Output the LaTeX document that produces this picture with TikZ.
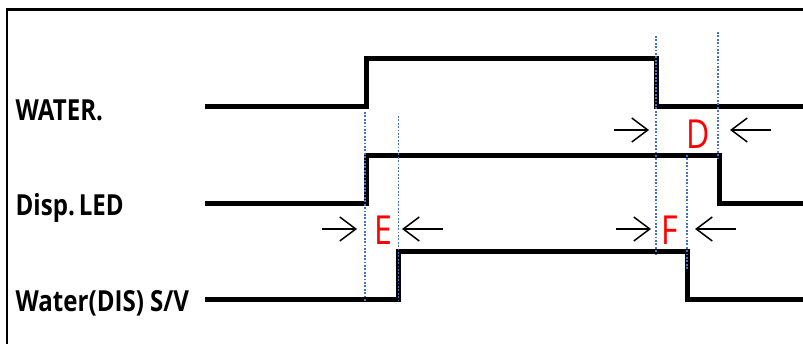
\documentclass[tikz,border=0pt]{standalone}
\usepackage{fontspec}
\setmainfont{Open Sans}
\usetikzlibrary{arrows.meta}
\definecolor{guideblue}{RGB}{68,114,196}
\definecolor{markred}{RGB}{255,0,0}
\begin{document}
\begin{tikzpicture}[x=1pt,y=-1pt,
  frame/.style={line width=2.2pt,black},
  signal/.style={line width=5pt,black,line join=miter},
  guide/.style={line width=1.8pt,guideblue,dash pattern=on 1.8pt off 1.6pt},
  measure/.style={line width=1.5pt,black,-{Straight Barb[length=16pt,width=24pt]}},
  siglabel/.style={anchor=base west,inner sep=0pt,font=\fontsize{29}{32}\selectfont\bfseries,xscale=0.83},
  marklabel/.style={inner sep=0pt,text=markred,font=\fontsize{40}{44}\selectfont,xscale=0.8}]
\useasboundingbox (0,0) rectangle (803,344);
% frame
\coordinate (fb) at (7,346);
\coordinate (fc) at (7,9.5);
\coordinate (fr) at (805,9.5);
\draw[frame] (fb) -- (fc) -- (fr);
% labels
\node[siglabel] (lw) at (15.5,121) {WATER.};
\node[siglabel] (ll) at (15.5,216) {Disp.\,LED};
\node[siglabel] (ls) at (15.5,312) {Water(DIS) S/V};
% WATER
\coordinate (w0) at (205,107);
\coordinate (w1) at (366,107);
\coordinate (w2) at (366,59);
\coordinate (w3) at (656,59);
\coordinate (w4) at (656,107);
\coordinate (w5) at (806,107);
\draw[signal] (w0) -- (w1) -- (w2) -- (w3) -- (w4) -- (w5);
% Disp LED
\coordinate (l0) at (205,204);
\coordinate (l1) at (366,204);
\coordinate (l2) at (366,156);
\coordinate (l3) at (719,156);
\coordinate (l4) at (719,204);
\coordinate (l5) at (806,204);
\draw[signal] (l0) -- (l1) -- (l2) -- (l3) -- (l4) -- (l5);
% S/V
\coordinate (s0) at (205,300);
\coordinate (s1) at (398.5,300);
\coordinate (s2) at (398.5,252);
\coordinate (s3) at (687,252);
\coordinate (s4) at (687,300);
\coordinate (s5) at (806,300);
\draw[signal] (s0) -- (s1) -- (s2) -- (s3) -- (s4) -- (s5);
% guides
\coordinate (g1a) at (365,112); \coordinate (g1b) at (365,302);
\coordinate (g2a) at (398.5,116); \coordinate (g2b) at (398.5,302);
\coordinate (g3a) at (656,36); \coordinate (g3b) at (656,255);
\coordinate (g4a) at (718,32); \coordinate (g4b) at (718,158);
\coordinate (g5a) at (687,155); \coordinate (g5b) at (687,269);
\draw[guide] (g1a) -- (g1b);
\draw[guide] (g2a) -- (g2b);
\draw[guide] (g3a) -- (g3b);
\draw[guide] (g4a) -- (g4b);
\draw[guide] (g5a) -- (g5b);
% measures
\coordinate (ea) at (322,229); \coordinate (eb) at (357,229);
\coordinate (ec) at (443,229); \coordinate (ed) at (402,229);
\coordinate (da) at (614,130); \coordinate (db) at (649,130);
\coordinate (dc) at (771,130); \coordinate (dd) at (730,130);
\coordinate (fa) at (616,229); \coordinate (fbb) at (651,229);
\coordinate (fcc) at (736,229); \coordinate (fd) at (695,229);
\draw[measure] (ea) -- (eb);
\draw[measure] (ec) -- (ed);
\draw[measure] (da) -- (db);
\draw[measure] (dc) -- (dd);
\draw[measure] (fa) -- (fbb);
\draw[measure] (fcc) -- (fd);
\node[marklabel] (me) at (383,230) {E};
\node[marklabel] (md) at (698.5,134) {D};
\node[marklabel] (mf) at (670,230) {F};
\end{tikzpicture}
\end{document}
